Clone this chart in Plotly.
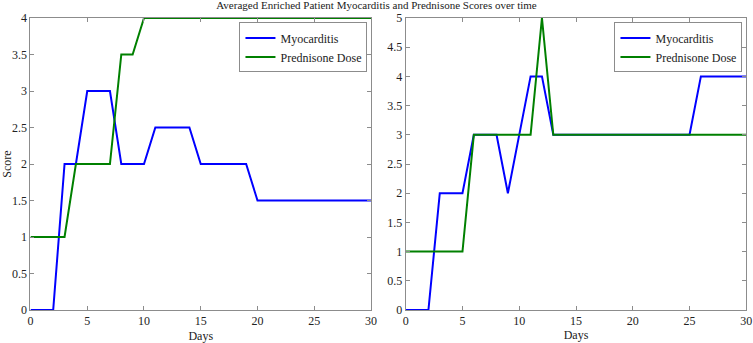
import plotly.graph_objects as go

days = list(range(0, 31))
myo_left = [0, 0, 0, 2, 2, 3, 3, 3, 2, 2, 2, 2.5, 2.5, 2.5, 2.5, 2, 2, 2, 2, 2,
            1.5, 1.5, 1.5, 1.5, 1.5, 1.5, 1.5, 1.5, 1.5, 1.5, 1.5]
pred_left = [1, 1, 1, 1, 2, 2, 2, 2, 3.5, 3.5, 4, 4, 4, 4, 4, 4, 4, 4, 4, 4,
             4, 4, 4, 4, 4, 4, 4, 4, 4, 4, 4]
myo_right = [0, 0, 0, 2, 2, 2, 3, 3, 3, 2, 3, 4, 4, 3, 3, 3, 3, 3, 3, 3,
             3, 3, 3, 3, 3, 3, 4, 4, 4, 4, 4]
pred_right = [1, 1, 1, 1, 1, 1, 3, 3, 3, 3, 3, 3, 5, 3, 3, 3, 3, 3, 3, 3,
              3, 3, 3, 3, 3, 3, 3, 3, 3, 3, 3]
x_ticks = [0, 5, 10, 15, 20, 25, 30]
y_ticks_left = [0, 0.5, 1, 1.5, 2, 2.5, 3, 3.5, 4]
y_ticks_right = [0, 0.5, 1, 1.5, 2, 2.5, 3, 3.5, 4, 4.5, 5]

FONT = "Liberation Serif, Times New Roman, serif"
BLUE = "#0000ff"
GREEN = "#008000"
AX = "#8c8c8c"
TXT = "#222222"

fig = go.Figure()
fig.add_trace(go.Scatter(x=days, y=myo_left, mode="lines", name="Myocarditis",
                         line=dict(color=BLUE, width=2), xaxis="x", yaxis="y", legend="legend"))
fig.add_trace(go.Scatter(x=days, y=pred_left, mode="lines", name="Prednisone Dose",
                         line=dict(color=GREEN, width=2), xaxis="x", yaxis="y", legend="legend"))
fig.add_trace(go.Scatter(x=days, y=myo_right, mode="lines", name="Myocarditis",
                         line=dict(color=BLUE, width=2), xaxis="x2", yaxis="y2", legend="legend2"))
fig.add_trace(go.Scatter(x=days, y=pred_right, mode="lines", name="Prednisone Dose",
                         line=dict(color=GREEN, width=2), xaxis="x2", yaxis="y2", legend="legend2"))

common_x = dict(range=[0, 30], tickvals=x_ticks, showgrid=False, zeroline=False,
                showline=True, linecolor=AX, linewidth=1, mirror="ticks",
                ticks="inside", ticklen=4, tickcolor=AX, automargin=False,
                tickfont=dict(family=FONT, size=12, color=TXT))
common_y = dict(showgrid=False, zeroline=False, showline=True, linecolor=AX,
                linewidth=1, mirror="ticks", ticks="inside", ticklen=4, tickcolor=AX,
                automargin=False, tickfont=dict(family=FONT, size=12, color=TXT))

leg = dict(bgcolor="white", bordercolor=AX, borderwidth=1,
           font=dict(family=FONT, size=12, color=TXT),
           xanchor="right", yanchor="top", yref="paper", xref="paper",
           tracegroupgap=0, itemwidth=30)

fig.update_layout(
    width=753, height=343,
    margin=dict(l=0, r=0, t=18, b=33),
    paper_bgcolor="white", plot_bgcolor="white",
    font=dict(family=FONT, size=12, color=TXT),
    title=dict(text="Averaged Enriched Patient Myocarditis and Prednisone Scores over time",
               x=0.5, xanchor="center", y=0.995, yanchor="top",
               font=dict(family=FONT, size=11, color=TXT)),
    xaxis=dict(domain=[0.0405, 0.4927], anchor="y",
               title=dict(text="Days", font=dict(family=FONT, size=12, color=TXT), standoff=4), **common_x),
    yaxis=dict(domain=[0, 1], anchor="x", range=[0, 4], tickvals=y_ticks_left,
               ticktext=[f"{v:g}" for v in y_ticks_left],
               title=dict(text="Score", font=dict(family=FONT, size=12, color=TXT), standoff=4), **common_y),
    xaxis2=dict(domain=[0.5388, 0.9911], anchor="y2",
                title=dict(text="Days", font=dict(family=FONT, size=12, color=TXT), standoff=0), **common_x),
    yaxis2=dict(domain=[0, 1], anchor="x2", range=[0, 5], tickvals=y_ticks_right,
                ticktext=[f"{v:g}" for v in y_ticks_right], **common_y),
    legend=dict(x=0.488, y=0.985, **leg),
    legend2=dict(x=0.986, y=0.985, **leg),
)

fig.write_html("out.html", config={"displayModeBar": False},
               post_script="document.body.style.margin='0';document.body.style.padding='0';")
